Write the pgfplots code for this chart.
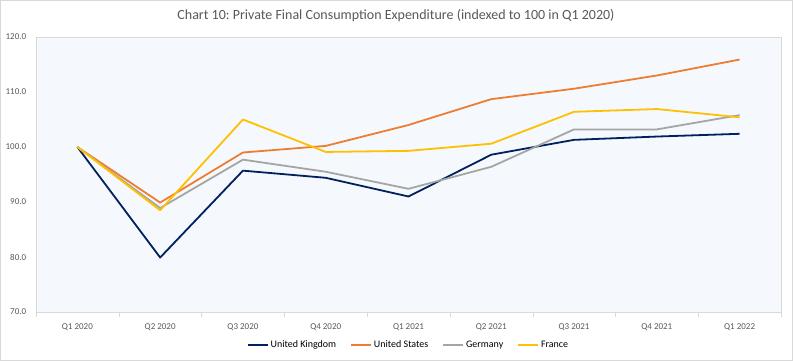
\documentclass[border=0pt]{standalone}
\usepackage{pgfplots}
\pgfplotsset{compat=1.18}
\usepackage{fontspec}
\setmainfont{Carlito}
\frenchspacing
\definecolor{uk}{HTML}{002060}
\definecolor{us}{HTML}{ED7D31}
\definecolor{de}{HTML}{A5A5A5}
\definecolor{fr}{HTML}{FFC000}
\definecolor{bgp}{HTML}{F5F9FD}
\definecolor{frame}{HTML}{D9D9D9}
\definecolor{txt}{HTML}{595959}
\begin{document}
\begin{tikzpicture}
\useasboundingbox (0pt,0pt) rectangle (793pt,361pt);
\fill[white] (0pt,0pt) rectangle (793pt,361pt);
\draw[frame, line width=1pt] (0.5pt,0.5pt) rectangle (792.5pt,360.5pt);
\node[text=txt, font=\fontsize{14}{17}\selectfont] at (396pt,345pt) {Chart 10: Private Final Consumption Expenditure (indexed to 100 in Q1 2020)};
\begin{axis}[
  at={(36pt,49pt)}, anchor=south west,
  width=745pt, height=275pt, scale only axis,
  xmin=-0.5, xmax=8.5, ymin=70, ymax=120,
  axis background/.style={fill=bgp},
  axis line style={frame},
  xtick={0,...,8},
  xticklabels={Q1 2020,Q2 2020,Q3 2020,Q4 2020,Q1 2021,Q2 2021,Q3 2021,Q4 2021,Q1 2022},
  major x tick style={draw=none},
  minor xtick={-0.5,0.5,...,8.5},
  minor x tick style={frame},
  minor tick length=5pt,
  tick align=outside,
  xtick pos=bottom,
  ytick={70,80,...,120},
  ytick style={draw=none},
  ytick pos=left,
  y tick label style={/pgf/number format/fixed, /pgf/number format/fixed zerofill, /pgf/number format/precision=1},
  /pgf/number format/assume math mode=true,
  ticklabel style={text=txt, font=\fontsize{9}{11}\selectfont},
  xticklabel style={yshift=-4pt},
  yticklabel style={xshift=-2pt},
  legend style={at={(0.5,-0.12)}, anchor=center, draw=none, fill=none,
    font=\fontsize{10}{12}\selectfont, /tikz/every even column/.append style={column sep=12pt}},
  legend columns=4,
  legend image code/.code={\draw[#1, line width=1.8pt] (0pt,0pt) -- (20pt,0pt);},
  every axis plot/.append style={line width=1.8pt, line join=round, mark=none},
]
\addplot[uk] coordinates {(0,100) (1,79.9) (2,95.7) (3,94.4) (4,91.0) (5,98.6) (6,101.3) (7,101.9) (8,102.4)};
\addplot[us] coordinates {(0,100) (1,89.9) (2,99.0) (3,100.2) (4,104.0) (5,108.7) (6,110.6) (7,113.0) (8,115.9)};
\addplot[de] coordinates {(0,100) (1,88.9) (2,97.7) (3,95.5) (4,92.4) (5,96.4) (6,103.2) (7,103.2) (8,105.8)};
\addplot[fr] coordinates {(0,100) (1,88.5) (2,105.0) (3,99.1) (4,99.3) (5,100.6) (6,106.4) (7,106.9) (8,105.4)};
\legend{United Kingdom, United States, Germany, France}
\end{axis}
\end{tikzpicture}
\end{document}
